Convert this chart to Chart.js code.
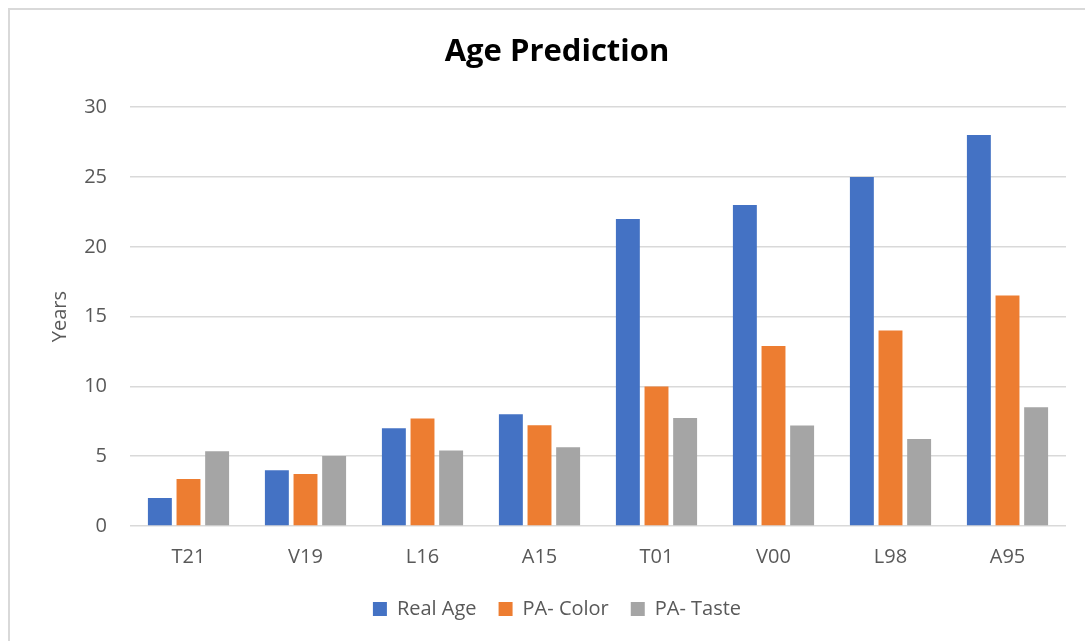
<!DOCTYPE html>
<html>
<head>
<meta charset="utf-8">
<script src="https://cdn.jsdelivr.net/npm/chart.js@4/dist/chart.umd.min.js"></script>
<style>
    html, body { margin: 0; padding: 0; background: #ffffff; overflow: hidden; }
    #frame {
        position: absolute; left: 8px; top: 8px; width: 1100px; height: 660px;
        border: 2px solid #d9d9d9; box-sizing: border-box;
    }
    #wrap { position: absolute; left: 0; top: 0; width: 1085px; height: 641px; }
</style>
</head>
<body>
<div id="frame"></div>
<div id="wrap"><canvas id="ageChart"></canvas></div>
<script>
// данные графика
const categories = ['T21', 'V19', 'L16', 'A15', 'T01', 'V00', 'L98', 'A95'];
const realAge = [2, 4, 7, 8, 22, 23, 25, 28];
const paColor = [3.37, 3.72, 7.7, 7.22, 10, 12.9, 14, 16.52];
const paTaste = [5.35, 5.02, 5.4, 5.65, 7.73, 7.2, 6.23, 8.5];
const yTicks = [0, 5, 10, 15, 20, 25, 30];

const textColor = '#595959';
const gridColor = '#d9d9d9';
const fontFamily = '"Open Sans", "Noto Sans", sans-serif';

const canvas = document.getElementById('ageChart');
canvas.width = 1085;
canvas.height = 641;
canvas.style.width = '1085px';
canvas.style.height = '641px';

function makeSet(label, data, color) {
    return {
        label: label,
        data: data,
        backgroundColor: color,
        borderWidth: 0,
        categoryPercentage: 0.734,
        barPercentage: 0.836
    };
}

window.ageChart = new Chart(canvas.getContext('2d'), {
    type: 'bar',
    data: {
        labels: categories,
        datasets: [
            makeSet('Real Age', realAge, '#4472C4'),
            makeSet('PA- Color', paColor, '#ED7D31'),
            makeSet('PA- Taste', paTaste, '#A5A5A5')
        ]
    },
    options: {
        responsive: false,
        animation: false,
        layout: { padding: { left: 48, right: 19, top: 0, bottom: 12 } },
        plugins: {
            title: {
                display: true,
                text: 'Age Prediction',
                color: '#000000',
                font: { family: fontFamily, size: 31, weight: 'bold', lineHeight: 1.2 },
                padding: { top: 34, bottom: 36 }
            },
            legend: {
                position: 'bottom',
                labels: {
                    color: textColor,
                    boxWidth: 14,
                    boxHeight: 14,
                    padding: 22,
                    font: { family: fontFamily, size: 20 }
                }
            },
            tooltip: { enabled: false }
        },
        scales: {
            x: {
                grid: { display: false, drawTicks: false },
                border: { display: false },
                ticks: { color: textColor, padding: 19, font: { family: fontFamily, size: 20 } },
                afterFit: function(scale) { scale.height = 51; }
            },
            y: {
                min: 0,
                max: 30,
                grid: { color: gridColor, lineWidth: 1.5, drawTicks: false },
                border: { display: false },
                afterBuildTicks: function(scale) {
                    scale.ticks = yTicks.map(v => ({ value: v }));
                },
                ticks: { color: textColor, padding: 23, font: { family: fontFamily, size: 20 } },
                title: {
                    display: true,
                    text: 'Years',
                    color: textColor,
                    padding: 0,
                    font: { family: fontFamily, size: 20, lineHeight: 1.2 }
                },
                afterFit: function(scale) { scale.width = 82; }
            }
        }
    }
});
</script>
</body>
</html>
